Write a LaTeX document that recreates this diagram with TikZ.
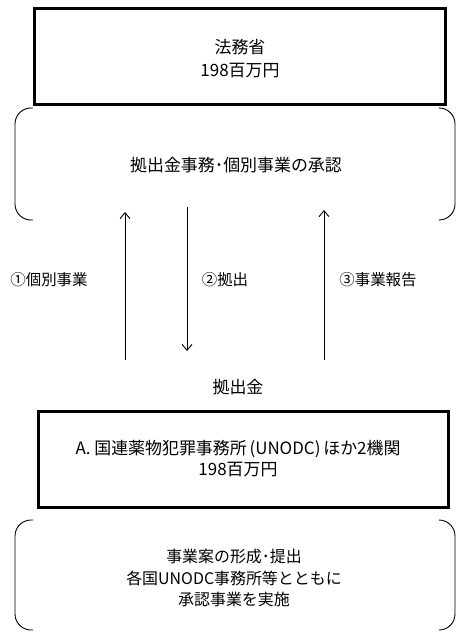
\documentclass[tikz,border=0pt]{standalone}
\usepackage{fontspec}
\setmainfont{Noto Sans CJK JP}
\usetikzlibrary{arrows.meta}
\begin{document}
\begin{tikzpicture}[x=1bp,y=-1bp,
  txt/.style={font=\fontsize{17}{23}\selectfont, align=center, inner sep=0pt},
  lbl/.style={font=\fontsize{15.5}{20}\selectfont, inner sep=0pt},
  thickbox/.style={draw, line width=2.6bp},
  bracket/.style={draw, line width=0.9bp, rounded corners=16bp},
  flow/.style={draw, line width=0.9bp, -{Straight Barb[length=6bp,width=10bp,line width=0.9bp]}}]
\useasboundingbox (0,0) rectangle (456,632);
% top box
\node[thickbox, minimum width=411bp, minimum height=96bp, anchor=north west] (moj) at (33,7) {};
\node[txt] (mojt) at (240,59) {法務省\\198百万円};
% middle bracket
\draw[bracket] (33,108) -- (15,108) -- (15,220) -- (33,220);
\draw[bracket] (439,108) -- (455,108) -- (455,220) -- (439,220);
\node[txt] (appr) at (236,165) {拠出金事務･個別事業の承認};
% arrows
\coordinate (a1s) at (125,360); \coordinate (a1e) at (125,212);
\coordinate (a2s) at (187,207); \coordinate (a2e) at (187,351);
\coordinate (a3s) at (324,360); \coordinate (a3e) at (324,210);
\draw[flow] (a1s) -- (a1e);
\draw[flow] (a2s) -- (a2e);
\draw[flow] (a3s) -- (a3e);
\node[lbl] (l1) at (49,280) {①個別事業};
\node[lbl] (l2) at (225,280) {②拠出};
\node[lbl] (l3) at (378,280) {③事業報告};
\node[txt] (kyo) at (238,387) {拠出金};
% box A
\node[thickbox, minimum width=410bp, minimum height=96bp, anchor=north west] (unodc) at (37,410) {};
\node[txt, font=\fontsize{17}{21}\selectfont] (unodct) at (238,459) {A.\ 国連薬物犯罪事務所\,(UNODC)\,ほか2機関\\198百万円};
% bottom bracket
\draw[bracket] (33,520) -- (15,520) -- (15,630) -- (33,630);
\draw[bracket] (439,520) -- (455,520) -- (455,630) -- (439,630);
\node[txt, font=\fontsize{16}{21.5}\selectfont] (impl) at (234,578) {事業案の形成･提出\\各国UNODC事務所等とともに\\承認事業を実施};
\end{tikzpicture}
\end{document}
